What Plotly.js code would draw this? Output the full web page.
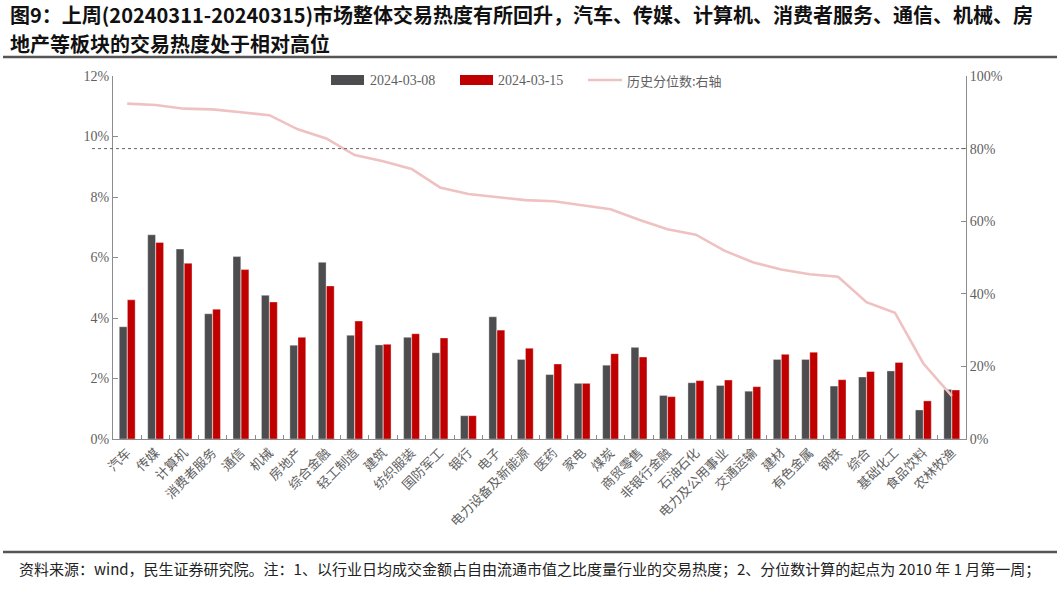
<!DOCTYPE html>
<html>
<head>
<meta charset="utf-8">
<script src="https://cdn.plot.ly/plotly-3.0.1.min.js"></script>
<style>
  html, body { margin: 0; padding: 0; background: #ffffff; }
  #chart { width: 1060px; height: 592px; }
</style>
</head>
<body>
<div id="chart"></div>
<script>
// Industry trading heat (daily turnover / free-float market cap), two weeks, plus historical percentile
const categories = ['汽车', '传媒', '计算机', '消费者服务', '通信', '机械', '房地产', '综合金融', '轻工制造', '建筑',
  '纺织服装', '国防军工', '银行', '电子', '电力设备及新能源', '医药', '家电', '煤炭', '商贸零售', '非银行金融',
  '石油石化', '电力及公用事业', '交通运输', '建材', '有色金属', '钢铁', '综合', '基础化工', '食品饮料', '农林牧渔'];

const heat0308 = [3.71, 6.75, 6.28, 4.14, 6.03, 4.75, 3.10, 5.84, 3.43, 3.11,
  3.36, 2.85, 0.77, 4.04, 2.63, 2.13, 1.84, 2.44, 3.03, 1.44,
  1.86, 1.77, 1.58, 2.63, 2.63, 1.75, 2.05, 2.25, 0.96, 1.64];

const heat0315 = [4.60, 6.50, 5.81, 4.29, 5.60, 4.53, 3.36, 5.06, 3.90, 3.13,
  3.48, 3.34, 0.77, 3.60, 3.00, 2.48, 1.84, 2.82, 2.71, 1.40,
  1.93, 1.95, 1.73, 2.80, 2.87, 1.96, 2.23, 2.53, 1.26, 1.62];

const percentile = [92.4, 92.0, 91.0, 90.8, 90.0, 89.2, 85.3, 82.8, 78.2, 76.5,
  74.4, 69.3, 67.5, 66.6, 65.8, 65.5, 64.3, 63.3, 60.4, 57.8,
  56.3, 51.9, 48.7, 46.7, 45.4, 44.7, 37.7, 34.8, 20.8, 11.9];

const seriesNames = ['2024-03-08', '2024-03-15', '历史分位数:右轴'];
const thresholdLevel = 80;

const titleLines = [
  '图9：上周(20240311-20240315)市场整体交易热度有所回升，汽车、传媒、计算机、消费者服务、通信、机械、房',
  '地产等板块的交易热度处于相对高位'
];
const sourceNote = '资料来源：wind，民生证券研究院。注：1、以行业日均成交金额占自由流通市值之比度量行业的交易热度；2、分位数计算的起点为 2010 年 1 月第一周；';

// Page geometry (pixels) and helpers converting page pixels to paper coordinates
const W = 1060, H = 592;
const M = { l: 113, r: 94, t: 76, b: 153 };
const PW = W - M.l - M.r, PH = H - M.t - M.b;
const px = x => (x - M.l) / PW;
const py = y => (H - M.b - y) / PH;

const DARK = '#4d4d4f';
const RED = '#c00000';
const PINK = '#efc1c1';
const AXIS = '#8c8c8c';
const LABEL = '#5f5f5f';
const SERIF = '"Liberation Serif", "Times New Roman", "Noto Sans CJK SC", serif';
const CJK = '"Noto Sans CJK SC", "Noto Sans", sans-serif';

const traces = [
  {
    type: 'bar', name: seriesNames[0], x: categories, y: heat0308,
    marker: { color: DARK, line: { color: 'rgba(255,255,255,0.6)', width: 0.6 } },
    hoverinfo: 'x+y'
  },
  {
    type: 'bar', name: seriesNames[1], x: categories, y: heat0315,
    marker: { color: RED, line: { color: 'rgba(255,255,255,0.6)', width: 0.6 } },
    hoverinfo: 'x+y'
  },
  {
    type: 'scatter', mode: 'lines', name: seriesNames[2], x: categories, y: percentile,
    yaxis: 'y2', line: { color: PINK, width: 2.6 }, hoverinfo: 'x+y'
  }
];

// Hand-drawn legend keys: wide bar swatches and a line sample
const legendY = 80;
const shapes = [
  { type: 'rect', xref: 'paper', yref: 'paper', x0: px(331), x1: px(364), y0: py(85), y1: py(75),
    fillcolor: DARK, line: { width: 0 } },
  { type: 'rect', xref: 'paper', yref: 'paper', x0: px(460), x1: px(493), y0: py(85), y1: py(75),
    fillcolor: RED, line: { width: 0 } },
  { type: 'line', xref: 'paper', yref: 'paper', x0: px(588), x1: px(622), y0: py(legendY), y1: py(legendY),
    line: { color: PINK, width: 2.6 } },
  // 80% percentile reference line on the right axis
  { type: 'line', xref: 'paper', yref: 'y2', x0: px(92), x1: 1, y0: thresholdLevel, y1: thresholdLevel,
    line: { color: '#666666', width: 1, dash: '3px,3px' } },
  // title underline and footer rule
  { type: 'line', xref: 'paper', yref: 'paper', x0: px(3), x1: px(1057), y0: py(57), y1: py(57),
    line: { color: '#555555', width: 2.5 } },
  { type: 'line', xref: 'paper', yref: 'paper', x0: px(3), x1: px(1057), y0: py(552), y1: py(552),
    line: { color: '#555555', width: 2.5 } }
];

const annotations = [
  { xref: 'paper', yref: 'paper', x: px(8), y: py(14.8), xanchor: 'left', yanchor: 'middle', showarrow: false,
    text: '<b>' + titleLines[0] + '</b>', font: { family: CJK, size: 20, color: '#111111' } },
  { xref: 'paper', yref: 'paper', x: px(8), y: py(43.6), xanchor: 'left', yanchor: 'middle', showarrow: false,
    text: '<b>' + titleLines[1] + '</b>', font: { family: CJK, size: 20, color: '#111111' } },
  { xref: 'paper', yref: 'paper', x: px(368), y: py(legendY), xanchor: 'left', yanchor: 'middle', showarrow: false,
    text: seriesNames[0], font: { family: SERIF, size: 14, color: LABEL } },
  { xref: 'paper', yref: 'paper', x: px(496), y: py(legendY), xanchor: 'left', yanchor: 'middle', showarrow: false,
    text: seriesNames[1], font: { family: SERIF, size: 14, color: LABEL } },
  { xref: 'paper', yref: 'paper', x: px(625), y: py(legendY), xanchor: 'left', yanchor: 'middle', showarrow: false,
    text: seriesNames[2], font: { family: CJK, size: 13, color: LABEL } },
  { xref: 'paper', yref: 'paper', x: px(17), y: py(568), xanchor: 'left', yanchor: 'middle', showarrow: false,
    text: sourceNote, font: { family: CJK, size: 15, color: '#222222' } }
];

const layout = {
  width: W, height: H,
  margin: M,
  paper_bgcolor: '#ffffff', plot_bgcolor: '#ffffff',
  showlegend: false,
  barmode: 'group', bargap: 0.43, bargroupgap: 0.04,
  xaxis: {
    type: 'category', showline: true, linecolor: AXIS, linewidth: 1,
    ticks: 'inside', tickson: 'boundaries', ticklen: 4, tickcolor: AXIS,
    tickangle: -45, tickfont: { family: CJK, size: 13, color: LABEL },
    showgrid: false, zeroline: false
  },
  yaxis: {
    range: [0, 12], dtick: 2, ticksuffix: '%', showline: true, linecolor: AXIS, linewidth: 1,
    ticks: 'inside', ticklen: 5, tickcolor: AXIS, showgrid: false, zeroline: false,
    tickfont: { family: SERIF, size: 14, color: LABEL }
  },
  yaxis2: {
    range: [0, 100], dtick: 20, ticksuffix: '%', overlaying: 'y', side: 'right',
    showline: true, linecolor: AXIS, linewidth: 1,
    ticks: 'inside', ticklen: 5, tickcolor: AXIS, showgrid: false, zeroline: false,
    tickfont: { family: SERIF, size: 14, color: LABEL }
  },
  shapes: shapes,
  annotations: annotations
};

Plotly.newPlot('chart', traces, layout, { displayModeBar: false, staticPlot: true });
</script>
</body>
</html>
